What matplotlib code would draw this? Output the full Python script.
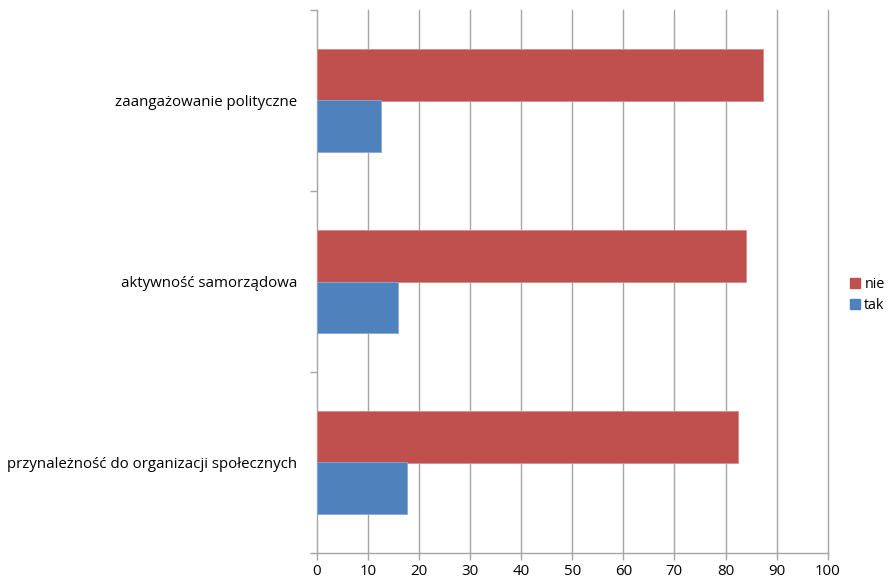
import matplotlib
matplotlib.use("Agg")
import matplotlib.pyplot as plt
from matplotlib.patches import Patch

plt.rcParams['font.family'] = ['Open Sans', 'DejaVu Sans']

categories = ["przynależność do organizacji społecznych", "aktywność samorządowa", "zaangażowanie polityczne"]
nie = [82.4, 84.0, 87.4]
tak = [17.6, 16.0, 12.6]
xticks = [0, 10, 20, 30, 40, 50, 60, 70, 80, 90, 100]

red = "#C0504D"
blue = "#4F81BD"
grid = "#A6A6A6"

fig = plt.figure(figsize=(8.9, 5.81), dpi=100)
ax = fig.add_axes([316.7/890, 28/581, 511/890, 543/581])

h = 1/3.5
ys = list(range(len(categories)))
ax.barh([y + h/2 for y in ys], nie, height=h, color=red, edgecolor="#D98A88", linewidth=0.6, zorder=3)
ax.barh([y - h/2 for y in ys], tak, height=h, color=blue, edgecolor="#8AA9D3", linewidth=0.6, zorder=3)

ax.set_xlim(0, 100)
ax.set_ylim(-0.5, len(categories) - 0.5)
ax.set_xticks(xticks)
ax.set_xticklabels([str(t) for t in xticks], fontsize=10.8)
for x in xticks[1:]:
    ax.axvline(x, color=grid, linewidth=1.0, zorder=0, clip_on=False)

ax.set_yticks([-0.5, 0.5, 1.5, 2.5])
ax.set_yticklabels([])
ax.set_yticks(ys, minor=True)
ax.set_yticklabels(categories, minor=True, fontsize=10.8)
ax.tick_params(axis='y', which='minor', length=0, pad=14)
ax.tick_params(axis='y', which='major', length=5, color=grid, width=1)
ax.tick_params(axis='x', length=5, color=grid, width=1, pad=3)

for s in ["top", "right"]:
    ax.spines[s].set_visible(False)
for s in ["left", "bottom"]:
    ax.spines[s].set_color(grid)
    ax.spines[s].set_linewidth(1)

handles = [Patch(facecolor=red, edgecolor=red), Patch(facecolor=blue, edgecolor=blue)]
fig.legend(handles, ["nie", "tak"], loc="center left", bbox_to_anchor=(850/890, 1 - 295/581),
           frameon=False, fontsize=10.3, handlelength=0.7, handleheight=0.7,
           handletextpad=0.3, labelspacing=0.45, borderpad=0, borderaxespad=0)

fig.savefig("out.png", dpi=100)
